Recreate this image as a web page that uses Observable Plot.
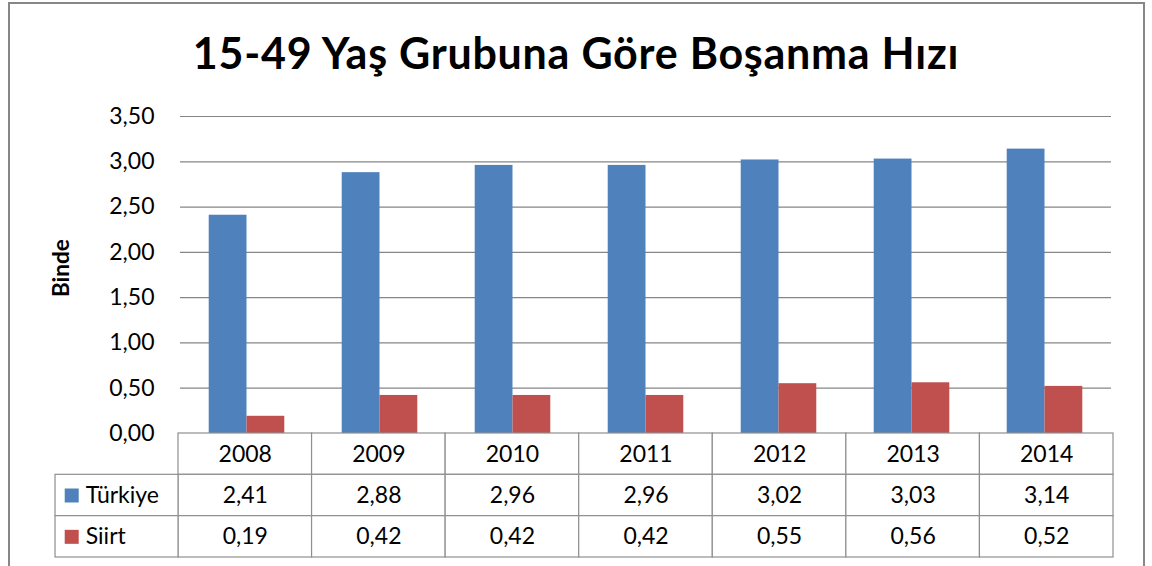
<!DOCTYPE html>
<html><head><meta charset="utf-8">
<script src="https://cdn.jsdelivr.net/npm/d3@7"></script>
<script src="https://cdn.jsdelivr.net/npm/@observablehq/plot@0.6"></script>
<style>
body{margin:0;background:#fff;font-family:Lato,sans-serif;}
#wrap{position:relative;width:1152px;height:566px;overflow:hidden;}
#border{position:absolute;left:8px;top:2px;width:1137px;height:640px;border:2.5px solid #878787;box-sizing:border-box;}
#title{position:absolute;left:0;width:1152px;top:27px;text-align:center;font-weight:bold;font-size:43px;letter-spacing:0.75px;line-height:1.2;color:#000;white-space:nowrap;}
#chart{position:absolute;left:0;top:99px;}
#table{position:absolute;left:0;top:420px;}
</style></head>
<body><div id="wrap"><div id="border"></div><div id="title"></div><div id="chart"></div><div id="table"></div></div>
<script>
const title = "15-49 Yaş Grubuna Göre Boşanma Hızı";
const yLabel = "Binde";
const years = ["2008", "2009", "2010", "2011", "2012", "2013", "2014"];
const series = ["Türkiye", "Siirt"];
const turkiye = [2.41, 2.88, 2.96, 2.96, 3.02, 3.03, 3.14];
const siirt = [0.19, 0.42, 0.42, 0.42, 0.55, 0.56, 0.52];
const yTicks = [0, 0.5, 1, 1.5, 2, 2.5, 3, 3.5];
const colors = ["#4F81BD", "#C0504D"];

const values = [turkiye, siirt];
const rows = years.flatMap((year, i) => series.map((s, j) => ({year, series: s, value: values[j][i]})));
const fmt = d => d3.format(".2f")(d).replace(".", ",");

document.getElementById("title").textContent = title;

const W = 1152, mL = 178, mR = 39;
const gridColor = "#868686";
const font = "Lato, sans-serif";

const chart = Plot.plot({
  width: W, height: 335,
  marginTop: 17, marginBottom: 1, marginLeft: mL, marginRight: mR,
  style: {fontFamily: font, fontSize: "23px", color: "#000", background: "transparent", overflow: "visible"},
  fx: {domain: years, padding: 0, axis: null, label: null},
  x: {domain: series, paddingInner: 0, paddingOuter: 0.76, axis: null, round: false},
  y: {domain: [0, 3.5], axis: null},
  color: {domain: series, range: colors},
  marks: [
    Plot.ruleY(yTicks, {stroke: gridColor, strokeWidth: 1.2}),
    Plot.barY(rows, {fx: "year", x: "series", y: "value", fill: "series", inset: 0}),
    Plot.axisY(yTicks, {tickFormat: fmt, tickSize: 0, tickPadding: 26, line: true, stroke: gridColor, fill: "#000", label: null}),
    Plot.text([yLabel], {text: d => d, frameAnchor: "left", rotate: -90, dx: -119, dy: 22, fontWeight: "bold", fontSize: 22.5, facet: "super"})
  ]
});
document.getElementById("chart").appendChild(chart);

// data table below the chart, aligned on the same columns
const step = (W - mL - mR) / years.length;
const labelCol = "";
const headerRow = "header";
const yearCells = years.flatMap(y => [headerRow, ...series].map(r => ({col: y, row: r})));
const labelCells = series.map(s => ({col: labelCol, row: s}));
const tableColor = "#8f8f8f";

const table = Plot.plot({
  width: W, height: 140,
  marginTop: 13, marginBottom: 3, marginLeft: mL - step, marginRight: mR,
  style: {fontFamily: font, fontSize: "23px", color: "#000", background: "transparent", overflow: "visible"},
  x: {domain: [labelCol, ...years], padding: 0, axis: null, round: false},
  y: {domain: [headerRow, ...series], padding: 0, axis: null, round: false},
  color: {domain: series, range: colors},
  marks: [
    Plot.cell(yearCells, {x: "col", y: "row", fill: "white", stroke: tableColor, strokeWidth: 1.2, inset: 0}),
    Plot.cell(labelCells, {x: "col", y: "row", fill: "white", stroke: tableColor, strokeWidth: 1.2, inset: 0, insetLeft: 10.6}),
    Plot.text(years, {x: d => d, y: () => headerRow, text: d => d, fill: "#000"}),
    Plot.text(rows, {x: "year", y: "series", text: d => fmt(d.value), fill: "#000"}),
    Plot.dot(series, {x: () => labelCol, y: d => d, fill: d => d, symbol: "square", r: 7.9, dx: -40}),
    Plot.text(series, {x: () => labelCol, y: d => d, text: d => d, textAnchor: "start", dx: -26, fill: "#000"})
  ]
});
document.getElementById("table").appendChild(table);
</script>
</body></html>
